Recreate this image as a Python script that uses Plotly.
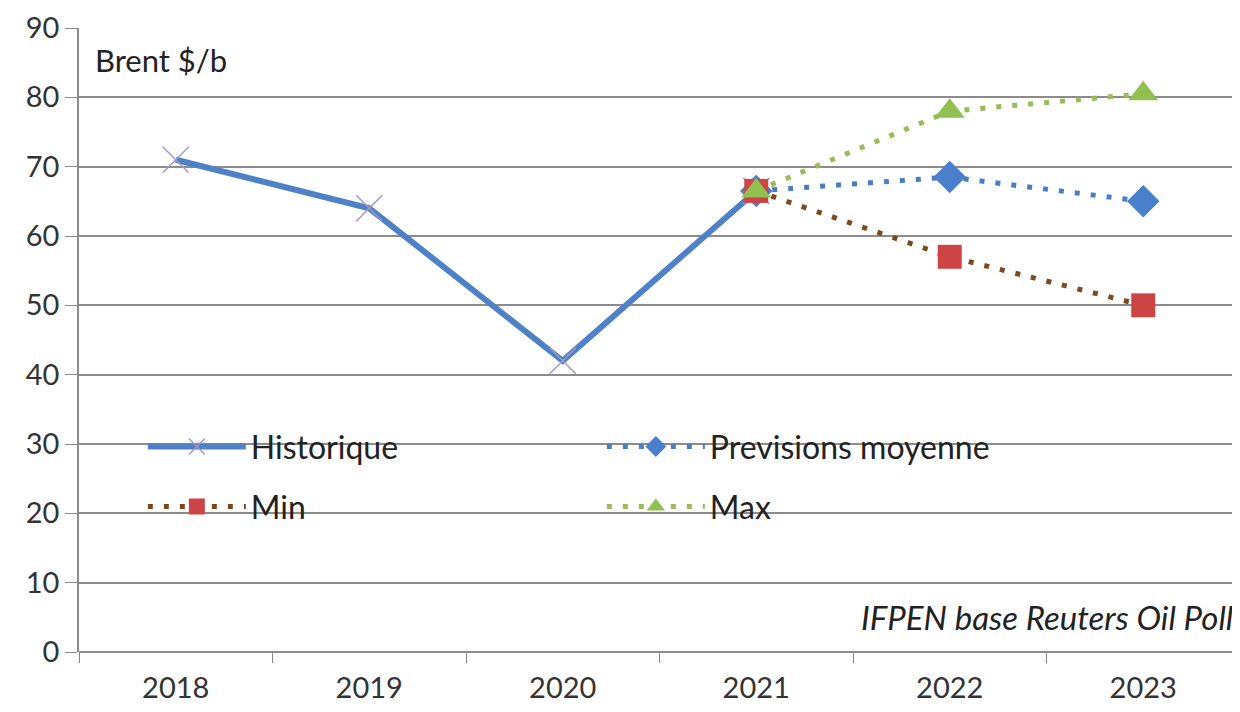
import plotly.graph_objects as go

years = ["2018", "2019", "2020", "2021", "2022", "2023"]
hist_x = ["2018", "2019", "2020", "2021"]
hist_y = [71, 64, 42, 66.5]
fc_x = ["2021", "2022", "2023"]
prev_y = [66.5, 68.5, 65]
min_y = [66.5, 57, 50]
max_y = [66.5, 78, 80.5]
y_ticks = [0, 10, 20, 30, 40, 50, 60, 70, 80, 90]

FONT = "Lato"
fig = go.Figure()
fig.add_trace(go.Scatter(
    x=hist_x, y=hist_y, name="Historique", mode="lines+markers",
    line=dict(color="#4f81c7", width=6),
    marker=dict(symbol="x-thin-open", size=26, color="#a398c6", line=dict(color="#a398c6", width=1.5)),
    legend="legend"))
fig.add_trace(go.Scatter(
    x=fc_x, y=prev_y, name="Previsions moyenne", mode="lines+markers",
    line=dict(color="#4a7ec4", width=5, dash="5px,11px"),
    marker=dict(symbol="diamond", size=25, color="#4a7fcb"),
    legend="legend"))
fig.add_trace(go.Scatter(
    x=fc_x, y=min_y, name="Min", mode="lines+markers",
    line=dict(color="#7a4a1e", width=5, dash="5px,11px"),
    marker=dict(symbol="square", size=24, color="#cc4444"),
    legend="legend2"))
fig.add_trace(go.Scatter(
    x=fc_x, y=max_y, name="Max", mode="lines+markers",
    line=dict(color="#9bbb59", width=5, dash="5px,11px"),
    marker=dict(symbol="triangle-up", size=26, color="#92c050"),
    legend="legend2"))

leg_common = dict(orientation="h", entrywidth=346, entrywidthmode="pixels",
                  font=dict(family=FONT, size=32, color="#222"), itemwidth=98,
                  bgcolor="rgba(0,0,0,0)", xanchor="left", yanchor="middle",
                  itemclick=False)
fig.update_layout(
    width=1232, height=704,
    margin=dict(l=71, r=0, t=20, b=60),
    paper_bgcolor="white", plot_bgcolor="white",
    font=dict(family=FONT, size=29, color="#333"),
    showlegend=True,
    legend=dict(x=0.055, y=0.329, **leg_common),
    legend2=dict(x=0.055, y=0.233, **leg_common),
    xaxis=dict(type="category", categoryorder="array", categoryarray=years,
               range=[-0.5, 5.5], showgrid=False, showline=False,
               ticks="outside", tickson="boundaries", ticklen=10, tickcolor="#888",
               ticklabelstandoff=16,
               tickfont=dict(family=FONT, size=29, color="#333")),
    yaxis=dict(range=[0, 90], tickvals=y_ticks, showgrid=True, gridcolor="#8c8c8c",
               gridwidth=1.5, showline=True, linecolor="#8c8c8c", linewidth=1.5,
               ticks="outside", ticklen=12, tickcolor="#8c8c8c", zeroline=True,
               zerolinecolor="#8c8c8c", zerolinewidth=1.5,
               tickfont=dict(family=FONT, size=29, color="#333")),
    annotations=[
        dict(text="Brent $/b", xref="paper", yref="paper", x=0.012, y=0.949,
             xanchor="left", yanchor="middle", showarrow=False,
             font=dict(family=FONT, size=31, color="#222")),
        dict(text="<i>IFPEN base Reuters Oil Poll</i>", xref="paper", yref="paper",
             x=0.996, y=0.056, xanchor="right", yanchor="middle", showarrow=False,
             font=dict(family=FONT, size=33, color="#222")),
    ],
)
fig.write_html("out.html")
